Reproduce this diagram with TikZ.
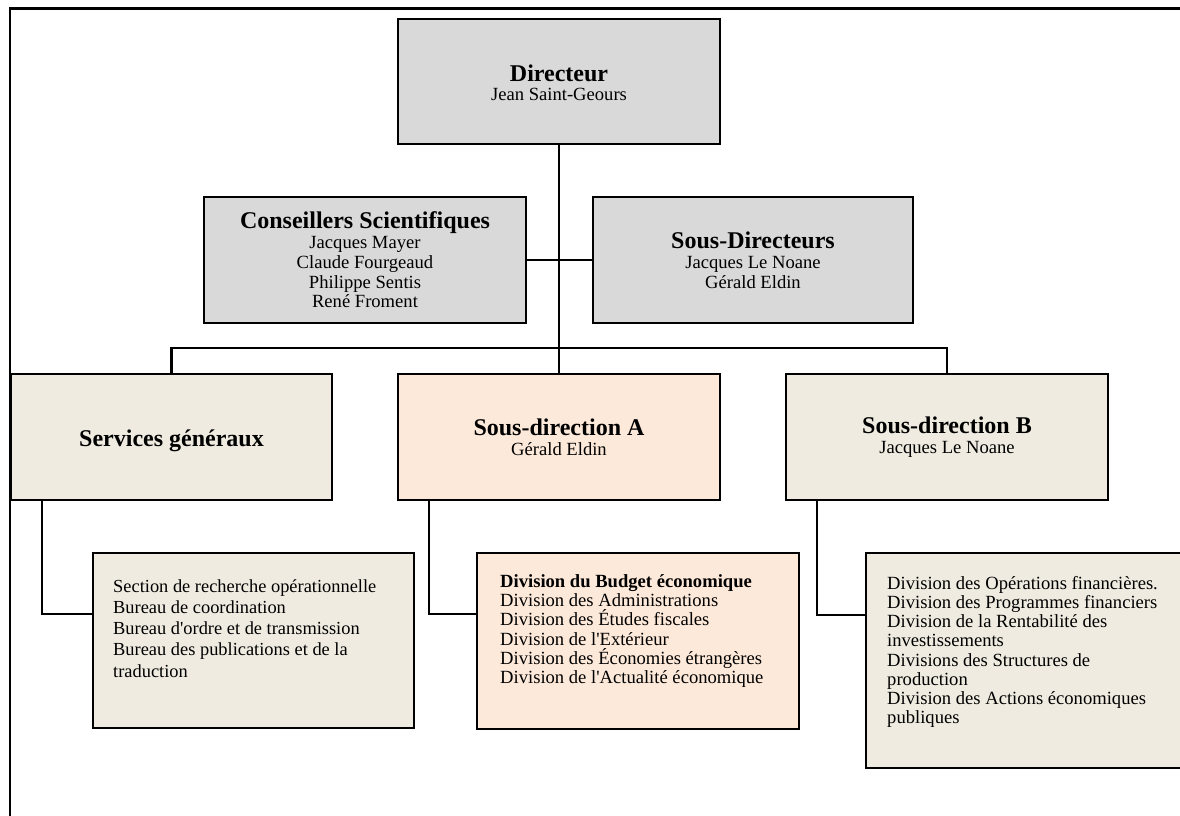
\documentclass[tikz,border=0pt]{standalone}
\usepackage{fontspec}
\setmainfont[Ligatures=TeXOff]{Liberation Serif}
\definecolor{boxgray}{HTML}{D9D9D9}
\definecolor{boxtan}{HTML}{EFEBE0}
\definecolor{boxpeach}{HTML}{FDE9D9}
\newcommand\boxtitle[1]{{\fontsize{24}{19.3}\selectfont\bfseries #1}}
\begin{document}
\begin{tikzpicture}[x=1pt,y=-1pt,
  orgbox/.style={draw=black, line width=2.4pt, rectangle, inner sep=0pt, align=center,
    font=\fontsize{18.6}{19.8}\selectfont},
  listtext/.style={inner sep=0pt, align=left, anchor=north west},
  conn/.style={draw=black, line width=2.4pt}]
\clip (0,0) rectangle (1180,816);
\fill[white] (0,0) rectangle (1180,816);
% outer frame
\draw[line width=2.4pt] (1200,8.5) -- (10,8.5) -- (10,830);

% top level
\node[orgbox, fill=boxgray, minimum width=322pt, minimum height=125pt] (dir) at (559,81.5)
  {\boxtitle{Directeur}\rule{0pt}{19pt}\\Jean Saint-Geours};
\node[orgbox, fill=boxgray, minimum width=322pt, minimum height=126pt] (cons) at (365,260)
  {\boxtitle{Conseillers Scientifiques}\\Jacques Mayer\\Claude Fourgeaud\\Philippe Sentis\\René Froment};
\node[orgbox, fill=boxgray, minimum width=320pt, minimum height=126pt] (sdirs) at (753,260)
  {\boxtitle{Sous-Directeurs}\\Jacques Le Noane\\Gérald Eldin};

% second level
\node[orgbox, fill=boxtan, minimum width=321pt, minimum height=126pt] (sg) at (171.5,437)
  {\boxtitle{Services généraux}\rule{0pt}{23.5pt}};
\node[orgbox, fill=boxpeach, minimum width=322pt, minimum height=126pt] (sda) at (559,437)
  {\boxtitle{Sous-direction A}\\Gérald Eldin};
\node[orgbox, fill=boxtan, minimum width=322pt, minimum height=126pt] (sdb) at (947,437)
  {\boxtitle{Sous-direction B}\\Jacques Le Noane};

% third level boxes
\node[orgbox, fill=boxtan, minimum width=321pt, minimum height=175pt] (sgl) at (253.5,640.5) {};
\node[orgbox, fill=boxpeach, minimum width=322pt, minimum height=176pt] (sdal) at (638,641) {};
\node[orgbox, fill=boxtan, minimum width=322pt, minimum height=215pt] (sdbl) at (1027,660.5) {};

\node[listtext, font=\fontsize{18.4}{21.3}\selectfont] (sgt) at (113,579)
  {Section de recherche opérationnelle\\Bureau de coordination\\Bureau d'ordre et de transmission\\Bureau des publications et de la\\traduction};
\node[listtext, font=\fontsize{18.6}{19.3}\selectfont] (sdat) at (500,574)
  {\textbf{Division du Budget économique}\\Division des Administrations\\Division des Études fiscales\\Division de l'Extérieur\\Division des Économies étrangères\\Division de l'Actualité économique};
\node[listtext, font=\fontsize{18.6}{19.2}\selectfont] (sdbt) at (887,576)
  {Division des Opérations financières.\\Division des Programmes financiers\\Division de la Rentabilité des\\investissements\\Divisions des Structures de\\production\\Division des Actions économiques\\publiques};

% connectors
\draw[conn] (dir.south) -- (sda.north);
\draw[conn] (cons.east) -- (sdirs.west);
\draw[conn] (sg.north) |- (sdb.north |- 0,348) -- (sdb.north);
\draw[conn] ([xshift=32pt]sg.south west) |- ([yshift=-62pt]sgl.north west);
\draw[conn] ([xshift=32pt]sda.south west) |- ([yshift=-62pt]sdal.north west);
\draw[conn] ([xshift=32pt]sdb.south west) |- ([yshift=-63pt]sdbl.north west);
\end{tikzpicture}
\end{document}
